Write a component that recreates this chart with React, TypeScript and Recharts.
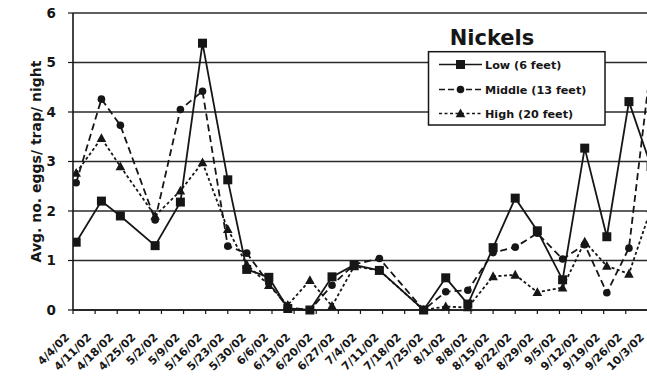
import React from 'react';
import { LineChart, Line, XAxis, YAxis, CartesianGrid, Legend } from 'recharts';

// Sampling dates as days after 4/4/02
const sampleDays = [1, 9, 15, 26, 34, 41, 49, 55, 62, 68, 75, 82, 89, 97, 111, 118, 125, 133, 140, 147, 155, 162, 169, 176, 183];
const lowValues = [1.37, 2.2, 1.9, 1.3, 2.18, 5.39, 2.63, 0.82, 0.66, 0.03, 0, 0.67, 0.91, 0.8, 0, 0.65, 0.12, 1.26, 2.26, 1.6, 0.61, 3.27, 1.48, 4.21, 2.9];
const middleValues = [2.57, 4.26, 3.73, 1.82, 4.05, 4.42, 1.29, 1.15, 0.54, 0.05, 0, 0.5, 0.92, 1.04, 0, 0.37, 0.4, 1.16, 1.27, 1.55, 1.03, 1.32, 0.35, 1.25, 5.0];
const highValues = [2.77, 3.47, 2.9, 1.9, 2.41, 2.98, 1.63, 0.92, 0.5, 0.1, 0.6, 0.08, 0.88, 0.8, 0, 0.07, 0.05, 0.68, 0.71, 0.36, 0.45, 1.38, 0.89, 0.73, 2.05];

const tickLabels = ['4/4/02', '4/11/02', '4/18/02', '4/25/02', '5/2/02', '5/9/02', '5/16/02', '5/23/02', '5/30/02', '6/6/02', '6/13/02', '6/20/02', '6/27/02', '7/4/02', '7/11/02', '7/18/02', '7/25/02', '8/1/02', '8/8/02', '8/15/02', '8/22/02', '8/29/02', '9/5/02', '9/12/02', '9/19/02', '9/26/02', '10/3/02'];
const tickDays = tickLabels.map((_, i) => i * 7);
const yTicks = [0, 1, 2, 3, 4, 5, 6];

const seriesNames = ['Low (6 feet)', 'Middle (13 feet)', 'High (20 feet)'];
const chartTitle = 'Nickels';
const yTitle = 'Avg. no. eggs/ trap/ night';

const data = sampleDays.map((d, i) => ({
  day: d,
  low: lowValues[i],
  middle: middleValues[i],
  high: highValues[i],
}));

const INK = '#161616';
const FONT = '"DejaVu Sans", Verdana, sans-serif';

const Square = (props: any) => {
  const { cx, cy, index } = props;
  if (cx == null || cy == null) return <g key={`sq-${index}`} />;
  return <rect key={`sq-${index}`} x={cx - 4.5} y={cy - 4.5} width={9} height={9} fill={INK} />;
};
const Circle = (props: any) => {
  const { cx, cy, index } = props;
  if (cx == null || cy == null) return <g key={`ci-${index}`} />;
  return <circle key={`ci-${index}`} cx={cx} cy={cy} r={3.8} fill={INK} />;
};
const Triangle = (props: any) => {
  const { cx, cy, index } = props;
  if (cx == null || cy == null) return <g key={`tr-${index}`} />;
  return <path key={`tr-${index}`} d={`M${cx},${cy - 5} L${cx + 4.8},${cy + 3.8} L${cx - 4.8},${cy + 3.8} Z`} fill={INK} />;
};

const XTick = (props: any) => {
  const { x, y, index } = props;
  const label = tickLabels[index] ?? '';
  const ax = x - 3;
  const ay = y + 22;
  return (
    <text x={ax} y={ay} textAnchor="end" transform={`rotate(-45 ${ax} ${ay})`}
      fontFamily={FONT} fontWeight="bold" fontSize={11.2} fill={INK}>
      {label}
    </text>
  );
};

const YTitle = (props: any) => {
  const vb = props.viewBox || { x: 0, y: 13, width: 73, height: 297 };
  const cx = vb.x + 40.5;
  const cy = vb.y + vb.height / 2;
  return (
    <text x={cx} y={cy} textAnchor="middle" transform={`rotate(-90 ${cx} ${cy})`}
      fontFamily={FONT} fontWeight="bold" fontSize={14} fill={INK}>
      {yTitle}
    </text>
  );
};

const LegendBox = () => {
  const rows = [
    { name: seriesNames[0], dash: undefined, marker: 'sq' },
    { name: seriesNames[1], dash: '6 3', marker: 'ci' },
    { name: seriesNames[2], dash: '3 2.5', marker: 'tr' },
  ];
  const rowY = [44.5, 69.5, 93.5];
  return (
    <svg width={200} height={110} style={{ display: 'block' }}>
      <text x={72} y={25} textAnchor="middle" fontFamily={FONT} fontWeight="bold" fontSize={21} fill={INK}>{chartTitle}</text>
      <rect x={8.5} y={31.7} width={176.5} height={73.3} fill="#fff" stroke={INK} strokeWidth={1.5} />
      {rows.map((r, i) => {
        const cy = rowY[i];
        return (
          <g key={r.name}>
            <line x1={19} y1={cy} x2={62} y2={cy} stroke={INK} strokeWidth={1.6} strokeDasharray={r.dash} />
            {r.marker === 'sq' && <rect x={36} y={cy - 4.5} width={9} height={9} fill={INK} />}
            {r.marker === 'ci' && <circle cx={40.5} cy={cy} r={3.8} fill={INK} />}
            {r.marker === 'tr' && <path d={`M40.5,${cy - 5} L45.3,${cy + 3.8} L35.7,${cy + 3.8} Z`} fill={INK} />}
            <text x={65} y={cy + 4} fontFamily={FONT} fontWeight="bold" fontSize={11.2} fill={INK}>{r.name}</text>
          </g>
        );
      })}
    </svg>
  );
};

export default function App() {
  return (
    <div style={{ position: 'absolute', left: 0, top: 0, width: 647, height: 377, overflow: 'hidden', background: '#fff' }}>
      <LineChart width={670} height={377} data={data} margin={{ top: 13, right: 0, bottom: 0, left: 0 }}>
        <CartesianGrid vertical={false} stroke="#2a2a2a" strokeWidth={1.4} />
        <XAxis
          dataKey="day"
          type="number"
          domain={[0, 189]}
          ticks={tickDays}
          interval={0}
          allowDataOverflow
          height={67}
          tickSize={4}
          tick={<XTick />}
          axisLine={{ stroke: INK, strokeWidth: 1.6 }}
          tickLine={{ stroke: INK, strokeWidth: 1.2 }}
        />
        <YAxis
          type="number"
          domain={[0, 6]}
          ticks={yTicks}
          width={73}
          tickSize={5}
          tickMargin={12}
          axisLine={{ stroke: INK, strokeWidth: 1.6 }}
          tickLine={{ stroke: INK, strokeWidth: 1.2 }}
          tick={{ fontFamily: FONT, fontWeight: 'bold', fontSize: 13.5, fill: INK }}
          label={<YTitle />}
        />
        <Legend
          layout="vertical"
          align="center"
          verticalAlign="middle"
          content={<LegendBox />}
          wrapperStyle={{ left: 420, top: 20, width: 200, height: 110 }}
        />
        <Line type="linear" dataKey="high" name={seriesNames[2]} stroke={INK} strokeWidth={1.8} strokeDasharray="3 2.5" dot={Triangle} activeDot={false} isAnimationActive={false} />
        <Line type="linear" dataKey="middle" name={seriesNames[1]} stroke={INK} strokeWidth={1.8} strokeDasharray="7 4" dot={Circle} activeDot={false} isAnimationActive={false} />
        <Line type="linear" dataKey="low" name={seriesNames[0]} stroke={INK} strokeWidth={1.8} dot={Square} activeDot={false} isAnimationActive={false} />
      </LineChart>
    </div>
  );
}
